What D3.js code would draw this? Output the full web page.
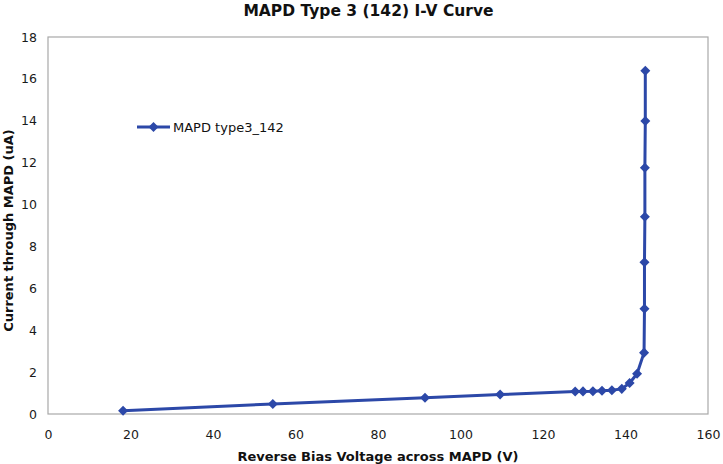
<!DOCTYPE html>
<html><head><meta charset="utf-8">
<script src="https://cdn.jsdelivr.net/npm/d3@7"></script>
<style>body{margin:0;background:#fff}svg{display:block}</style>
</head><body><svg id="c" width="723" height="464"></svg>
<script>
const voltage = [18.2, 54.5, 91.4, 109.6, 127.8, 129.7, 132.1, 134.3, 136.7, 139.1, 141.0, 142.8, 144.5, 144.6, 144.6, 144.7, 144.7, 144.8, 144.8];
const current = [0.15, 0.48, 0.78, 0.93, 1.07, 1.08, 1.09, 1.11, 1.13, 1.2, 1.48, 1.92, 2.93, 5.03, 7.25, 9.42, 11.76, 13.99, 16.39];
const xTicks = [0, 20, 40, 60, 80, 100, 120, 140, 160];
const yTicks = [0, 2, 4, 6, 8, 10, 12, 14, 16, 18];
const seriesName = "MAPD type3_142";
const title = "MAPD Type 3 (142) I-V Curve";
const xTitle = "Reverse Bias Voltage across MAPD (V)";
const yTitle = "Current through MAPD (uA)";

const svg = d3.select("#c");
const L = 48, R = 708, T = 37, B = 414;
const x = d3.scaleLinear().domain([0, 160]).range([L, R]);
const y = d3.scaleLinear().domain([0, 18]).range([B, T]);
const blue = "#2c48a8";
const font = "'DejaVu Sans', Verdana, sans-serif";

svg.append("rect").attr("x", L).attr("y", T).attr("width", R - L).attr("height", B - T)
  .attr("fill", "none").attr("stroke", "#a8a8a8").attr("stroke-width", 1.2);

const xa = svg.append("g").attr("transform", `translate(0,${B})`)
  .call(d3.axisBottom(x).tickValues(xTicks).tickSize(0).tickPadding(16.5));
xa.select(".domain").remove();
xa.selectAll("text").attr("font-family", font).attr("font-size", 12.5).attr("fill", "#1a1a1a");

const ya = svg.append("g").attr("transform", `translate(${L},0)`)
  .call(d3.axisLeft(y).tickValues(yTicks).tickSize(0).tickPadding(11));
ya.select(".domain").remove();
ya.selectAll("text").attr("font-family", font).attr("font-size", 12.5).attr("fill", "#1a1a1a");

svg.append("text").attr("x", 368.5).attr("y", 16).attr("text-anchor", "middle")
  .attr("font-family", font).attr("font-weight", "bold").attr("font-size", 15.5).attr("fill", "#111").text(title);
svg.append("text").attr("x", 378).attr("y", 461).attr("text-anchor", "middle")
  .attr("font-family", font).attr("font-weight", "bold").attr("font-size", 13).attr("fill", "#111").text(xTitle);
svg.append("text").attr("transform", `translate(13,${(T + B) / 2 + 5}) rotate(-90)`).attr("text-anchor", "middle")
  .attr("font-family", font).attr("font-weight", "bold").attr("font-size", 13).attr("fill", "#111").text(yTitle);

const pts = voltage.map((v, i) => [v, current[i]]);
svg.append("path").datum(pts)
  .attr("d", d3.line().x(d => x(d[0])).y(d => y(d[1])))
  .attr("fill", "none").attr("stroke", blue).attr("stroke-width", 3).attr("stroke-linejoin", "round");

const diamond = d3.symbol().type(d3.symbolDiamond2).size(64);
svg.append("g").selectAll("path").data(pts).join("path")
  .attr("d", diamond).attr("transform", d => `translate(${x(d[0])},${y(d[1])})`)
  .attr("fill", blue);

const lg = svg.append("g");
lg.append("line").attr("x1", 137).attr("x2", 170).attr("y1", 127).attr("y2", 127)
  .attr("stroke", blue).attr("stroke-width", 3);
lg.append("path").attr("d", diamond).attr("transform", "translate(153.5,127)").attr("fill", blue);
lg.append("text").attr("x", 173).attr("y", 132).attr("font-family", font).attr("font-size", 13)
  .attr("fill", "#111").text(seriesName);
</script></body></html>
